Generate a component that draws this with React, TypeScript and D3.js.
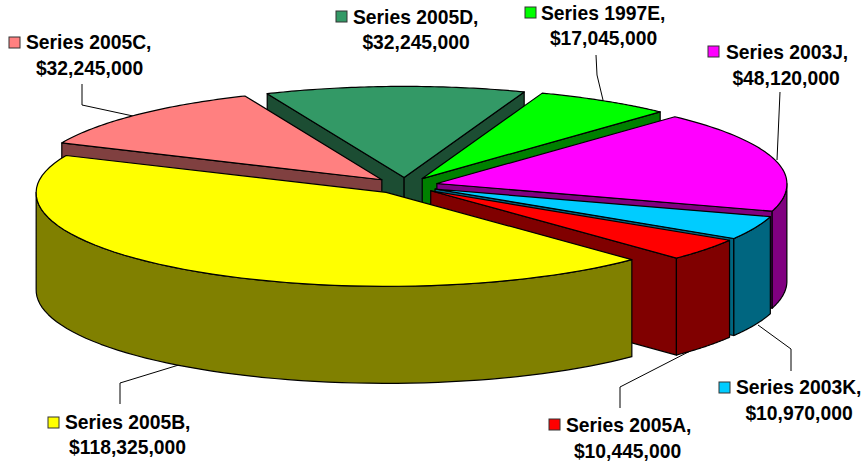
import React from "react";
import * as d3 from "d3";

// Data: clockwise order starting at the first slice
const names = ["Series 2005A", "Series 2005B", "Series 2005C", "Series 2005D", "Series 1997E", "Series 2003J", "Series 2003K"];
const amounts = [10445000, 118325000, 32245000, 32245000, 17045000, 48120000, 10970000];
const topColors = ["#FF0000", "#FFFF00", "#FF8080", "#339966", "#00FF00", "#FF00FF", "#00CCFF"];
const wallColors = ["#800000", "#808000", "#804040", "#1C4D33", "#008000", "#800080", "#006680"];
// painter's order, back to front (indexes into the arrays above)
const drawOrder = [3, 4, 2, 5, 6, 0, 1];

// Layout
const W = 864, H = 466;
const CX = 405, CY = 185.6;
const RX = 350, RX_NEAR_EXTRA = 3, RY_FAR = 91, RY_NEAR = 94, DEPTH = 97;
const EXPLODE_X = 33, EXPLODE_Y = 8.2;
const FIRST_ANGLE = (121.8 * Math.PI) / 180;
const FONT_SIZE = 19.3;

const labelLayout = [
  { marker: [549, 419], textX: 566, base1: 432, center2: 627.5, base2: 458 },
  { marker: [48, 417], textX: 65, base1: 429, center2: 127.5, base2: 454 },
  { marker: [9, 37], textX: 26, base1: 49, center2: 89.5, base2: 75 },
  { marker: [336, 11], textX: 353, base1: 24, center2: 416, base2: 49 },
  { marker: [525, 7], textX: 541, base1: 20, center2: 603.5, base2: 45 },
  { marker: [708, 46], textX: 726, base1: 59, center2: 786, base2: 85 },
  { marker: [719, 382], textX: 736, base1: 394, center2: 799, base2: 420 },
];
const leaders: [number, number][][] = [
  [[696, 348], [620, 387], [620, 408]],
  [[182, 364], [120, 383], [120, 404]],
  [[82, 84], [82, 105], [133, 116]],
  [],
  [[596, 55], [597, 75], [603, 100]],
  [[780, 92], [777, 160]],
  [[758, 325], [791, 349], [791, 371]],
];

const money = (v: number) => "$" + d3.format(",")(v);
const pie = d3.pie<number>().sort(null).startAngle(FIRST_ANGLE).endAngle(FIRST_ANGLE + 2 * Math.PI);
const arcs = pie(amounts);
const line = d3.line<[number, number]>();

const project = (c: [number, number], a: number, z = 0): [number, number] => {
  const cos = Math.cos(a);
  const rx = RX + RX_NEAR_EXTRA * Math.max(0, -cos);
  return [c[0] + Math.sin(a) * rx, c[1] - cos * (cos > 0 ? RY_FAR : RY_NEAR) + z];
};
const sample = (a0: number, a1: number) => d3.range(0, 61).map((i) => a0 + ((a1 - a0) * i) / 60);

export default function App() {
  const slices = arcs.map((arc, i) => {
    const mid = (arc.startAngle + arc.endAngle) / 2;
    const c: [number, number] = [CX + Math.sin(mid) * EXPLODE_X, CY - Math.cos(mid) * EXPLODE_Y];
    const { startAngle: a0, endAngle: a1 } = arc;
    const top = line([c, ...sample(a0, a1).map((a) => project(c, a))]) + "Z";
    const walls: string[] = [];
    const radial = (a: number) => {
      const p = project(c, a);
      const q = project(c, a, DEPTH);
      return line([c, p, q, [c[0], c[1] + DEPTH]]) + "Z";
    };
    if (Math.sin(a0) < 0) walls.push(radial(a0));
    if (Math.sin(a1) > 0) walls.push(radial(a1));
    // outer wall: the front half of the rim only
    const two = 2 * Math.PI;
    const ranges: [number, number][] = [];
    for (const k of [0, 1]) {
      const lo = Math.max(a0, Math.PI / 2 + k * two);
      const hi = Math.min(a1, (3 * Math.PI) / 2 + k * two);
      if (hi > lo) ranges.push([lo, hi]);
    }
    const rims = ranges.map(([lo, hi]) => {
      const upper = sample(lo, hi).map((a) => project(c, a));
      const lower = sample(hi, lo).map((a) => project(c, a, DEPTH));
      return line([...upper, ...lower]) + "Z";
    });
    return { i, top, walls, rims };
  });

  const stroke = { stroke: "#000", strokeWidth: 1.2, strokeLinejoin: "round" as const };
  return (
    <svg width={W} height={H} style={{ position: "absolute", left: 0, top: 0, background: "#fff" }} fontFamily="'Liberation Sans', Arial, sans-serif">
      {leaders.map((pts, i) => pts.length > 0 && <path key={i} d={line(pts) || ""} fill="none" stroke="#000" strokeWidth={1} />)}
      {drawOrder.map((idx) => {
        const s = slices[idx];
        return (
          <g key={idx}>
            {s.walls.map((d, j) => <path key={j} d={d} fill={wallColors[idx]} {...stroke} />)}
            {s.rims.map((d, j) => <path key={"r" + j} d={d} fill={wallColors[idx]} {...stroke} />)}
            <path d={s.top} fill={topColors[idx]} {...stroke} />
          </g>
        );
      })}
      {names.map((n, i) => {
        const l = labelLayout[i];
        return (
          <g key={n} fontWeight="bold" fontSize={FONT_SIZE} fill="#000">
            <rect x={l.marker[0]} y={l.marker[1]} width={11} height={11} fill={topColors[i]} stroke="#333" strokeWidth={1} />
            <text x={l.textX} y={l.base1}>{n + ","}</text>
            <text x={l.center2} y={l.base2} textAnchor="middle">{money(amounts[i])}</text>
          </g>
        );
      })}
    </svg>
  );
}
